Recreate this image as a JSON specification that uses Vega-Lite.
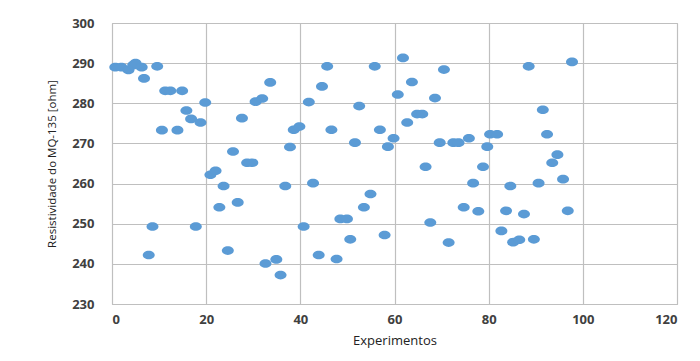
{
  "$schema": "https://vega.github.io/schema/vega-lite/v6.json",
  "width": 565,
  "height": 281,
  "autosize": {"type": "none"},
  "padding": {"left": 112, "top": 23, "right": 23, "bottom": 57},
  "background": "white",
  "config": {
    "view": {"stroke": "#BFBFBF", "strokeWidth": 1},
    "axis": {"gridColor": "#BFBFBF", "gridWidth": 1.2, "domainColor": "#BFBFBF", "ticks": false, "labelFont": "Open Sans", "titleFont": "Open Sans", "labelColor": "#404040", "titleColor": "#222222", "labelFontWeight": "bold"}
  },
  "data": {"values": [
    {"x": 0.7, "y": 289}, {"x": 2, "y": 289}, {"x": 3.5, "y": 288.3}, {"x": 4.5, "y": 289.5}, {"x": 5, "y": 290},
    {"x": 6.3, "y": 289}, {"x": 6.8, "y": 286.2}, {"x": 7.8, "y": 242.2}, {"x": 8.6, "y": 249.3}, {"x": 9.6, "y": 289.2},
    {"x": 10.6, "y": 273.3}, {"x": 11.3, "y": 283.1}, {"x": 12.4, "y": 283.1}, {"x": 13.9, "y": 273.3}, {"x": 14.9, "y": 283.1},
    {"x": 15.8, "y": 278.2}, {"x": 16.8, "y": 276.1}, {"x": 17.8, "y": 249.3}, {"x": 18.8, "y": 275.2}, {"x": 19.8, "y": 280.2},
    {"x": 20.9, "y": 262.2}, {"x": 22, "y": 263.2}, {"x": 22.8, "y": 254.1}, {"x": 23.7, "y": 259.4}, {"x": 24.6, "y": 243.3},
    {"x": 25.7, "y": 268}, {"x": 26.7, "y": 255.3}, {"x": 27.6, "y": 276.3}, {"x": 28.7, "y": 265.2}, {"x": 29.8, "y": 265.2},
    {"x": 30.5, "y": 280.4}, {"x": 31.9, "y": 281.2}, {"x": 32.6, "y": 240.1}, {"x": 33.6, "y": 285.2}, {"x": 34.9, "y": 241.1},
    {"x": 35.8, "y": 237.2}, {"x": 36.8, "y": 259.4}, {"x": 37.8, "y": 269.1}, {"x": 38.6, "y": 273.4}, {"x": 39.8, "y": 274.2},
    {"x": 40.7, "y": 249.3}, {"x": 41.8, "y": 280.3}, {"x": 42.7, "y": 260.1}, {"x": 43.9, "y": 242.2}, {"x": 44.6, "y": 284.2},
    {"x": 45.7, "y": 289.2}, {"x": 46.6, "y": 273.4}, {"x": 47.7, "y": 241.2}, {"x": 48.5, "y": 251.2}, {"x": 49.9, "y": 251.2},
    {"x": 50.6, "y": 246.1}, {"x": 51.6, "y": 270.2}, {"x": 52.5, "y": 279.3}, {"x": 53.5, "y": 254.1}, {"x": 54.9, "y": 257.4},
    {"x": 55.8, "y": 289.2}, {"x": 56.9, "y": 273.4}, {"x": 57.9, "y": 247.2}, {"x": 58.6, "y": 269.2}, {"x": 59.8, "y": 271.3},
    {"x": 60.7, "y": 282.2}, {"x": 61.8, "y": 291.3}, {"x": 62.7, "y": 275.2}, {"x": 63.7, "y": 285.3}, {"x": 64.8, "y": 277.3},
    {"x": 65.9, "y": 277.3}, {"x": 66.6, "y": 264.2}, {"x": 67.6, "y": 250.3}, {"x": 68.6, "y": 281.3}, {"x": 69.6, "y": 270.2},
    {"x": 70.5, "y": 288.4}, {"x": 71.5, "y": 245.3}, {"x": 72.5, "y": 270.2}, {"x": 73.6, "y": 270.2}, {"x": 74.7, "y": 254.1},
    {"x": 75.8, "y": 271.3}, {"x": 76.7, "y": 260.1}, {"x": 77.8, "y": 253.1}, {"x": 78.8, "y": 264.2}, {"x": 79.7, "y": 269.2},
    {"x": 80.3, "y": 272.3}, {"x": 81.8, "y": 272.3}, {"x": 82.7, "y": 248.2}, {"x": 83.7, "y": 253.2}, {"x": 84.6, "y": 259.4},
    {"x": 85.2, "y": 245.4}, {"x": 86.5, "y": 246}, {"x": 87.5, "y": 252.4}, {"x": 88.5, "y": 289.2}, {"x": 89.6, "y": 246.1},
    {"x": 90.6, "y": 260.1}, {"x": 91.5, "y": 278.4}, {"x": 92.4, "y": 272.3}, {"x": 93.5, "y": 265.2}, {"x": 94.6, "y": 267.2},
    {"x": 95.8, "y": 261.1}, {"x": 96.8, "y": 253.2}, {"x": 97.7, "y": 290.3}
  ]},
  "mark": {"type": "point", "filled": true, "opacity": 1, "color": "#5B9BD5", "size": 144, "shape": "M-1,0A1,0.72,0,1,1,1,0A1,0.72,0,1,1,-1,0Z"},
  "encoding": {
    "x": {"field": "x", "type": "quantitative", "scale": {"domain": [0, 120], "nice": false, "zero": false},
      "axis": {"values": [0, 20, 40, 60, 80, 100, 120], "title": "Experimentos", "labelFontSize": 13, "titleFontSize": 13, "titleFontWeight": "normal", "labelPadding": 9, "titlePadding": 8}},
    "y": {"field": "y", "type": "quantitative", "scale": {"domain": [230, 300], "nice": false, "zero": false},
      "axis": {"values": [230, 240, 250, 260, 270, 280, 290, 300], "title": "Resistividade do MQ-135 [ohm]", "labelFontSize": 13, "titleFontSize": 11.5, "titleFontWeight": "normal", "labelPadding": 18, "titlePadding": 14}}
  }
}
